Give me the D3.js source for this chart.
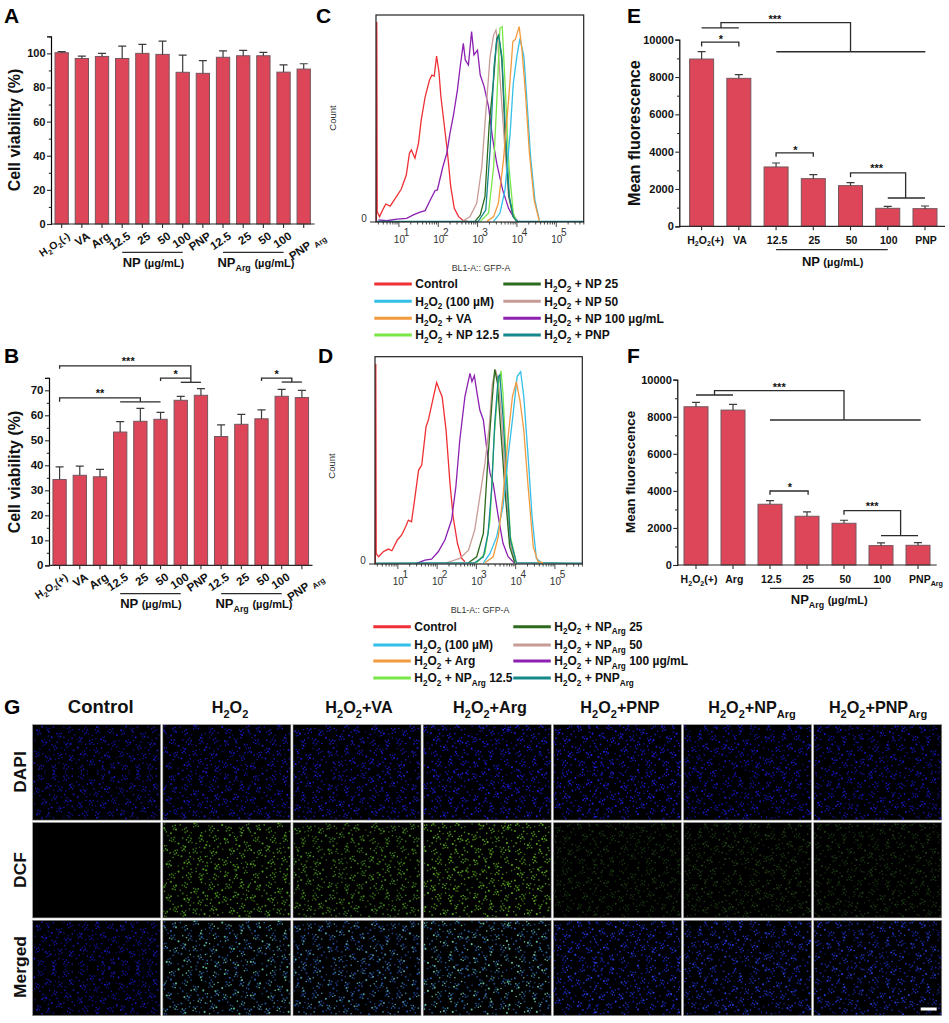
<!DOCTYPE html>
<html>
<head>
<meta charset="utf-8">
<script src="https://cdn.jsdelivr.net/npm/d3@7"></script>
<style>
    body { margin: 0; background: #fff; }
    svg { display: block; }
    text { font-family: "Liberation Sans", Arial, sans-serif; }
</style>
</head>
<body>
<div id="content"></div>
<script>
// Panel A
var labelsA = ["H~2~O~2~(-)", "VA", "Arg", "12.5", "25", "50", "100", "PNP", "12.5 ", "25 ", "50 ", "100 ", "PNP ~Arg~"];
var valuesA = [100.4, 97, 98.2, 97, 100, 99.4, 88.9, 88.3, 97.7, 98.6, 98.6, 89, 90.8];
var errorsA = [101, 98.4, 100, 104.3, 105.3, 107.2, 99, 95.7, 101.4, 101.8, 100.6, 93.2, 93.9];

// Panel B
var labelsB = ["H~2~O~2~(+)", "VA", "Arg", "12.5", "25", "50", "100", "PNP", "12.5 ", "25 ", "50 ", "100 ", "PNP ~Arg~"];
var valuesB = [34.3, 36, 35.4, 53.3, 57.6, 58.4, 66, 68, 51.5, 56.4, 58.6, 67.6, 67.1];
var errorsB = [39.4, 39.7, 38.4, 57.5, 62.8, 61.2, 67.6, 70.7, 56.2, 60.4, 62.2, 70.4, 70];

// Panel E
var labelsE = ["H~2~O~2~(+)", "VA", "12.5", "25", "50", "100", "PNP"];
var valuesE = [8964, 7930, 3180, 2554, 2179, 964, 946];
var errorsE = [9357, 8125, 3393, 2768, 2339, 1071, 1089];

// Panel F
var labelsF = ["H~2~O~2~(+)", "Arg", "12.5", "25", "50", "100", "PNP~Arg~"];
var valuesF = [8540, 8360, 3279, 2630, 2252, 1045, 1063];
var errorsF = [8775, 8667, 3477, 2865, 2414, 1189, 1207];

// Flow cytometry curves, [log10 of GFP-A, % of max count]
var cControl = [[0.44,0],[0.45,96.6],[0.46,5],[0.52,2.6],[0.62,6.6],[0.68,8.7],[0.79,7.7],[0.92,11.4],[1.07,15.8],[1.2,22.7],[1.28,33.2],[1.33,34.8],[1.42,30.8],[1.51,38],[1.58,49.3],[1.68,60.5],[1.79,68.6],[1.85,71],[1.91,70.5],[1.97,80.2],[2.03,72.6],[2.08,60.5],[2.16,47.7],[2.24,34.8],[2.33,17.1],[2.42,6.6],[2.53,2.6],[2.65,0.6],[2.78,0.2]];
var cH2O2 = [[3.42,0.3],[3.58,4.2],[3.71,15.5],[3.84,42.8],[3.92,66.9],[4.01,79.9],[4.09,88.7],[4.19,79.9],[4.26,60.5],[4.36,31.6],[4.47,10.6],[4.58,1]];
var cVA = [[3.25,0.3],[3.42,2.6],[3.54,9],[3.67,29.9],[3.8,58.9],[3.91,87.3],[3.97,88.1],[4.07,94.4],[4.14,83.1],[4.23,62.2],[4.33,33.2],[4.45,10.6],[4.58,0.6]];
var cNP125 = [[3.08,0.3],[3.29,4.2],[3.42,26.7],[3.5,58],[3.58,93.6],[3.64,94.4],[3.71,66.9],[3.81,26.7],[3.92,4.2],[4.01,0.3]];
var cNP25 = [[2.95,0.3],[3.08,3.4],[3.2,12.2],[3.31,47.7],[3.42,68.6],[3.5,88.7],[3.55,90.3],[3.63,78.3],[3.71,42.8],[3.81,12.2],[3.92,2.6],[4.01,0.3]];
var cNP50 = [[2.65,0.6],[2.82,2.6],[2.99,9],[3.12,26.7],[3.22,52.5],[3.33,79.9],[3.42,90.3],[3.48,92.8],[3.53,86.3],[3.58,70.2],[3.69,39.6],[3.8,12.2],[3.92,2.6],[4.01,0.3]];
var cNP100 = [[0.49,1],[0.7,0.6],[0.96,1.4],[1.21,1.8],[1.38,3.4],[1.55,4.8],[1.68,5.5],[1.81,10.6],[1.93,15.1],[1.99,15.5],[2.13,26.7],[2.23,33.2],[2.31,42.8],[2.4,51.7],[2.5,63.8],[2.57,75],[2.65,86.3],[2.7,78.3],[2.78,75.8],[2.86,92],[2.92,80.7],[3.01,83],[3.08,71],[3.18,65.4],[3.29,55.7],[3.4,39.6],[3.5,28.3],[3.65,15.5],[3.8,6.6],[3.92,2.6],[4.03,0.6]];
var cPNP = [[0.45,0.3],[3.03,0.3],[3.22,5.8],[3.33,34.8],[3.43,75],[3.5,87.9],[3.55,89.9],[3.63,79.9],[3.72,44.4],[3.82,12.2],[3.92,2.6],[4.01,0.3],[5.7,0.3]];

var dControl = [[0.44,0],[0.45,96.5],[0.46,5],[0.52,3.5],[0.64,5.9],[0.77,7.2],[0.86,6.4],[1,11.6],[1.11,14],[1.21,18],[1.28,21.2],[1.36,20.4],[1.45,32.5],[1.54,45.3],[1.62,47.7],[1.73,66.2],[1.79,69.5],[1.9,79.1],[2,87.5],[2.07,83.9],[2.14,80.7],[2.24,64.6],[2.34,38.9],[2.42,22.8],[2.53,10],[2.64,2.7],[2.72,1.1]];
var dH2O2 = [[3.19,0.6],[3.36,5.1],[3.53,13.2],[3.69,27.7],[3.82,51.8],[3.95,72.7],[4.05,90.4],[4.14,92.8],[4.22,80.7],[4.33,51.8],[4.43,22.8],[4.54,2.7],[4.67,0.6]];
var dArg = [[3.23,0.6],[3.44,3.5],[3.57,13.2],[3.69,32.5],[3.82,61.4],[3.93,80.7],[4.03,87.9],[4.12,79.1],[4.22,64.6],[4.33,37.3],[4.46,8.4],[4.58,1.1],[4.71,0.6]];
var dNP125 = [[3.02,0.6],[3.23,5.1],[3.36,21.2],[3.46,59.8],[3.57,87.1],[3.64,93.2],[3.69,82.3],[3.78,46.9],[3.88,13.2],[4.03,0.6]];
var dNP25 = [[2.81,0.6],[3.02,3.5],[3.19,14.8],[3.31,51.8],[3.42,80.7],[3.48,93.9],[3.55,87.1],[3.65,59.8],[3.76,30.9],[3.86,8.4],[3.99,0.6]];
var dNP50 = [[2.25,0.6],[2.59,2.7],[2.81,6.7],[2.97,16.4],[3.1,32.5],[3.23,48.6],[3.34,66.2],[3.42,87.1],[3.5,93.6],[3.57,88.8],[3.65,71.1],[3.76,38.9],[3.86,11.6],[3.99,0.6]];
var dNP100 = [[1.49,0.3],[1.7,1.9],[1.87,2.3],[2.04,5.9],[2.21,11.6],[2.38,21.2],[2.49,37.3],[2.59,59.8],[2.72,80.7],[2.85,92],[2.9,88],[2.96,90.8],[3.03,82.3],[3.1,74.3],[3.19,69.5],[3.27,56.6],[3.36,43.7],[3.44,38.9],[3.57,22.8],[3.69,10],[3.82,3.5],[3.99,0.3]];
var dPNP = [[0.45,0.4],[2.97,0.6],[3.19,3.5],[3.31,14.8],[3.4,35.7],[3.48,67.8],[3.57,90.4],[3.61,91.2],[3.69,71.1],[3.78,42.1],[3.88,11.6],[4.03,0.6],[5.7,0.4]];

var legendC = ["Control", "H~2~O~2~ (100 µM)", "H~2~O~2~ + VA", "H~2~O~2~ + NP 12.5", "H~2~O~2~ + NP 25", "H~2~O~2~ + NP 50", "H~2~O~2~ + NP 100 µg/mL", "H~2~O~2~ + PNP"];
var legendD = ["Control", "H~2~O~2~ (100 µM)", "H~2~O~2~ + Arg", "H~2~O~2~ + NP~Arg~ 12.5", "H~2~O~2~ + NP~Arg~ 25", "H~2~O~2~ + NP~Arg~ 50", "H~2~O~2~ + NP~Arg~ 100 µg/mL", "H~2~O~2~ + PNP~Arg~"];

// Panel G
var columnsG = ["Control", "H~2~O~2~", "H~2~O~2~+VA", "H~2~O~2~+Arg", "H~2~O~2~+PNP", "H~2~O~2~+NP~Arg~", "H~2~O~2~+PNP~Arg~"];
var rowsG = ["DAPI", "DCF", "Merged"];
var cellPatch = [
    [.08,.1],[.11,.14],[.14,.11],[.1,.19],[.16,.17],[.31,.05],[.34,.09],[.38,.06],[.36,.13],
    [.55,.17],[.58,.22],[.61,.18],[.64,.23],[.6,.27],[.66,.16],[.81,.07],[.86,.04],[.88,.11],[.84,.14],[.93,.09],
    [.2,.33],[.24,.36],[.27,.41],[.22,.43],[.3,.36],[.26,.3],[.44,.41],[.48,.46],[.52,.43],[.5,.51],[.55,.48],
    [.73,.36],[.77,.4],[.81,.37],[.84,.43],[.79,.46],[.88,.39],[.82,.31],[.03,.55],[.07,.6],[.11,.57],[.05,.66],[.1,.65],[.14,.62],
    [.29,.66],[.33,.69],[.37,.65],[.35,.75],[.4,.71],[.31,.76],[.58,.6],[.62,.64],[.66,.61],[.6,.7],[.67,.68],
    [.85,.64],[.89,.68],[.93,.65],[.96,.71],[.91,.75],[.86,.73],[.1,.84],[.14,.88],[.18,.85],[.12,.93],[.19,.92],[.23,.87],
    [.43,.86],[.47,.89],[.51,.85],[.45,.95],[.53,.92],[.49,.97],[.7,.82],[.74,.86],[.78,.83],[.72,.91],[.79,.93],[.83,.88],[.76,.97],
    [.2,.02],[.47,.03],[.72,.03],[.98,.2],[.43,.25],[.03,.32],[.35,.22],[.72,.25],[.92,.27],[.15,.5],[.38,.52],[.66,.47],[.95,.53],
    [.22,.6],[.48,.62],[.76,.6],[.02,.8],[.27,.97],[.6,.8],[.92,.92],[.56,.35],[.38,.32],[.74,.52],[.52,.72]
];

var width = 949;
var height = 1023;
var barFill = "#dd4659";
var barStroke = "#75565c";
var inkColor = "#2b2b2b";
var svg = d3.select("#content").append("svg").attr("width", width).attr("height", height);
svg.append("defs").append("filter").attr("id", "soft")
    .attr("x", 0).attr("y", 0).attr("width", 1).attr("height", 1)
    .append("feGaussianBlur").attr("stdDeviation", 0.35);

// ~x~ is a subscript, {x} is a smaller run
function rich(sel, str, fs) {
    var parts = str.match(/~[^~]*~|\{[^}]*\}|[^~{]+/g);
    var back = 0;
    parts.forEach(function(p) {
        var t = sel.append("tspan");
        if (p[0] === "~") {
            t.text(p.slice(1, -1)).attr("font-size", fs * 0.68).attr("dy", fs * 0.28);
            back = -fs * 0.28;
        } else {
            t.attr("dy", back);
            back = 0;
            if (p[0] === "{") t.text(p.slice(1, -1)).attr("font-size", fs * 0.85);
            else t.text(p);
        }
    });
}

function addText(g, x, y, str, fs, anchor, rotate) {
    var t = g.append("text")
        .attr("font-size", fs)
        .attr("font-weight", "bold")
        .attr("fill", "#111")
        .attr("text-anchor", anchor || "middle");
    if (rotate) t.attr("transform", "translate(" + x + "," + y + ") rotate(" + rotate + ")");
    else t.attr("x", x).attr("y", y);
    rich(t, str, fs);
    return t;
}

function addLine(g, pts, w) {
    g.append("path")
        .attr("d", d3.line()(pts))
        .attr("fill", "none")
        .attr("stroke", inkColor)
        .attr("stroke-width", w || 1.3);
}

function barPanel(o) {
    var g = svg.append("g");
    var bw = o.barWidth;
    var step = (o.xRange[1] - o.xRange[0]) / o.labels.length;
    var pad = 1 - bw / step;
    var x = d3.scaleBand().domain(o.labels).range(o.xRange).paddingInner(pad).paddingOuter(pad / 2);
    var y = d3.scaleLinear().domain(o.yDomain).range(o.yRange);
    // position by band number, fractions allowed, for the brackets
    var bx = function(i) { return o.xRange[0] + (i + 0.5) * step; };

    g.selectAll("rect.bar")
        .data(o.values)
        .enter().append("rect")
        .attr("class", "bar")
        .attr("x", function(d, i) { return x(o.labels[i]); })
        .attr("y", function(d) { return y(d); })
        .attr("width", x.bandwidth())
        .attr("height", function(d) { return y(0) - y(d); })
        .attr("fill", barFill)
        .attr("stroke", barStroke)
        .attr("stroke-width", 1);

    g.selectAll("path.err")
        .data(o.errors)
        .enter().append("path")
        .attr("class", "err")
        .attr("d", function(d, i) {
            var cx = bx(i);
            return "M" + cx + "," + y(o.values[i]) + "V" + y(d) + "M" + (cx - 4) + "," + y(d) + "H" + (cx + 4);
        })
        .attr("fill", "none")
        .attr("stroke", "#3c3c3c")
        .attr("stroke-width", 1.2);

    // axes
    var yAxis = d3.axisLeft(y).tickValues(o.yTicks).tickSize(o.tickLen).tickFormat("");
    var yMinor = d3.axisLeft(y).tickValues(o.yMinor).tickSize(o.tickLen * 0.55).tickFormat("");
    var xAxis = d3.axisBottom(x).tickSize(o.tickLen).tickFormat("");
    var gy = g.append("g").attr("transform", "translate(" + o.axisX + ",0)").call(yAxis);
    g.append("g").attr("transform", "translate(" + o.axisX + ",0)").call(yMinor).select(".domain").remove();
    gy.select(".domain").attr("stroke-width", 1.2);
    var gx = g.append("g").attr("transform", "translate(0," + y(0) + ")").call(xAxis);
    gx.select(".domain").remove();
    g.selectAll(".tick line").attr("stroke", inkColor).attr("stroke-width", 1.1);
    addLine(g, [[o.axisX, y(0)], [o.axisEnd, y(0)]], 1.2);

    o.yTicks.forEach(function(v) {
        addText(g, o.axisX - o.tickLen - 1.5, y(v) + o.yFont * 0.36, String(v), o.yFont, "end");
    });
    o.labels.forEach(function(l, i) {
        var cx = bx(i) + o.labelDx(i);
        if (o.labelAngle) addText(g, cx, o.labelY, l.trim(), i === 0 ? o.xFont : o.xFont + 1, "end", o.labelAngle);
        else addText(g, cx, o.labelY, l, o.xFont);
    });
    addText(g, o.titleX, o.titleY, o.title, o.titleFont, "middle", -90);

    // groups under the axis
    o.groups.forEach(function(gr) {
        addLine(g, [[bx(gr.from), gr.lineY], [bx(gr.to), gr.lineY]], 1.2);
        addText(g, gr.x, gr.textY, gr.text, gr.font);
    });

    // significance brackets, given as [band, value] points
    o.brackets.forEach(function(b) {
        addLine(g, b.map(function(p) { return [bx(p[0]), y(p[1])]; }), 1.3);
    });
    o.stars.forEach(function(s) {
        addText(g, bx(s[0]), y(s[1]), s[2], 11);
    });
}

barPanel({
    labels: labelsA, values: valuesA, errors: errorsA,
    xRange: [51.6, 313.8], barWidth: 13.3,
    yDomain: [0, 110], yRange: [224, 36.3], yTicks: [0, 20, 40, 60, 80, 100], yMinor: [10, 30, 50, 70, 90, 110],
    axisX: 51, axisEnd: 314.5, tickLen: 4, yFont: 11, xFont: 10.5,
    labelAngle: -34, labelY: 238, labelDx: function(i) { return i === 12 ? 22 : 9; },
    title: "Cell viability (%)", titleX: 20, titleY: 130, titleFont: 16,
    groups: [
        {from: 3, to: 6, lineY: 252.3, x: 153.5, textY: 267, text: "NP {(µg/mL)}", font: 13},
        {from: 8, to: 11, lineY: 252.3, x: 256, textY: 267, text: "NP~Arg~ {(µg/mL)}", font: 13}
    ],
    brackets: [], stars: []
});

barPanel({
    labels: labelsB, values: valuesB, errors: errorsB,
    xRange: [49.5, 312], barWidth: 13.3,
    yDomain: [0, 75], yRange: [565.3, 377.8], yTicks: [0, 10, 20, 30, 40, 50, 60, 70], yMinor: [5, 15, 25, 35, 45, 55, 65, 75],
    axisX: 49, axisEnd: 312.5, tickLen: 4, yFont: 11.5, xFont: 10.5,
    labelAngle: -34, labelY: 579, labelDx: function(i) { return i === 12 ? 22 : 9; },
    title: "Cell viability (%)", titleX: 20, titleY: 472, titleFont: 16,
    groups: [
        {from: 3, to: 6, lineY: 593.7, x: 151, textY: 608, text: "NP {(µg/mL)}", font: 13},
        {from: 8, to: 11, lineY: 593.7, x: 254, textY: 608, text: "NP~Arg~ {(µg/mL)}", font: 13}
    ],
    brackets: [
        [[0, 78.6], [0, 79.8], [6.5, 79.8], [6.5, 73.2]], [[6, 73.2], [7, 73.2]],
        [[5, 73.7], [5, 74.9], [6.5, 74.9]],
        [[0, 65.4], [0, 67], [4, 67], [4, 65.4]], [[3, 65.4], [5, 65.4]],
        [[10, 73.7], [10, 74.9], [11.5, 74.9], [11.5, 73.3]], [[11, 73.3], [12, 73.3]]
    ],
    stars: [[3.4, 80, "***"], [5.75, 74.8, "*"], [2, 67.3, "**"], [10.75, 74.8, "*"]]
});

barPanel({
    labels: labelsE, values: valuesE, errors: errorsE,
    xRange: [683, 943.6], barWidth: 24,
    yDomain: [0, 10000], yRange: [226.3, 39.7], yTicks: [0, 2000, 4000, 6000, 8000, 10000], yMinor: [1000, 3000, 5000, 7000, 9000],
    axisX: 679.3, axisEnd: 945, tickLen: 4, yFont: 11, xFont: 10.5,
    labelY: 243.5, labelDx: function(i) { return i === 0 ? 4 : 1; },
    title: "Mean fluorescence", titleX: 639.5, titleY: 133, titleFont: 16.2,
    groups: [{from: 2, to: 5, lineY: 249.7, x: 832.7, textY: 266, text: "NP {(µg/mL)}", font: 13}],
    brackets: [
        [[0, 9630], [0, 9866], [1, 9866], [1, 9630]],
        [[0, 10633], [1, 10633]], [[0.52, 10633], [0.52, 10917], [4, 10917], [4, 9362]],
        [[2, 3732], [2, 3930], [3, 3930], [3, 3732]],
        [[4, 2627], [4, 2858], [5.48, 2858], [5.48, 1517]], [[5, 1517], [6, 1517]]
    ],
    stars: [[0.52, 9828, "*"], [1.97, 10900, "***"], [2.52, 3898, "*"], [4.7, 2912, "***"]]
});
addLine(svg, [[776.3, 51.7], [925.3, 51.7]], 1.6);

barPanel({
    labels: labelsF, values: valuesF, errors: errorsF,
    xRange: [677.5, 936.5], barWidth: 24,
    yDomain: [0, 10000], yRange: [565, 379.7], yTicks: [0, 2000, 4000, 6000, 8000, 10000], yMinor: [1000, 3000, 5000, 7000, 9000],
    axisX: 677.3, axisEnd: 936.7, tickLen: 4, yFont: 11, xFont: 10.5,
    labelY: 583, labelDx: function(i) { return i === 0 ? 3 : (i === 6 ? 8 : 1.3); },
    title: "Mean fluorescence", titleX: 634.5, titleY: 472, titleFont: 13.6,
    groups: [{from: 2, to: 5, lineY: 588.3, x: 829.3, textY: 604, text: "NP~Arg~ {(µg/mL)}", font: 13}],
    brackets: [
        [[0, 9174], [1, 9174]], [[0.5, 9174], [0.5, 9406], [4, 9406], [4, 7825]],
        [[2, 3794], [2, 3994], [3.03, 3994], [3.03, 3794]],
        [[4, 2715], [4, 2930], [5.53, 2930], [5.53, 1581]], [[5, 1581], [6, 1581]]
    ],
    stars: [[2.25, 9390, "***"], [2.54, 3977, "*"], [4.76, 2968, "***"]]
});
addLine(svg, [[770, 420], [920.7, 420]], 1.6);

// flow panels
var flowColors = ["#ee2f33", "#33bfe8", "#f29a3e", "#79e648", "#2c6a1e", "#c79c97", "#8c20b0", "#14888a"];
var drawOrder = [0, 6, 5, 4, 3, 7, 1, 2];

function flowPanel(o) {
    var g = svg.append("g");
    var x = d3.scaleLinear().domain([0.43, 5.71]).range(o.xRange);
    var y = d3.scaleLinear().domain([0, 100]).range(o.yRange);
    var line = d3.line().x(function(d) { return x(d[0]); }).y(function(d) { return y(d[1]); });

    var minors = [];
    d3.range(0, 6).forEach(function(dec) {
        d3.range(2, 10).forEach(function(k) {
            var v = dec + Math.log10(k);
            if (v > 0.43 && v < 5.71) minors.push(v);
        });
    });
    g.append("g").attr("transform", "translate(0," + o.yRange[0] + ")")
        .call(d3.axisBottom(x).tickValues(minors).tickSize(2.5).tickFormat(""))
        .select(".domain").remove();
    g.append("g").attr("transform", "translate(0," + o.yRange[0] + ")")
        .call(d3.axisBottom(x).tickValues([1, 2, 3, 4, 5]).tickSize(5).tickFormat(""))
        .select(".domain").remove();
    g.selectAll(".tick line").attr("stroke", "#222").attr("stroke-width", 0.8);

    g.selectAll("path.curve")
        .data(drawOrder)
        .enter().append("path")
        .attr("class", "curve")
        .attr("d", function(k) { return line(o.curves[k]); })
        .attr("fill", "none")
        .attr("stroke", function(k) { return flowColors[k]; })
        .attr("stroke-width", 1.3);

    g.append("rect")
        .attr("x", o.xRange[0]).attr("y", o.yRange[1])
        .attr("width", o.xRange[1] - o.xRange[0]).attr("height", o.yRange[0] - o.yRange[1])
        .attr("fill", "none").attr("stroke", "#222").attr("stroke-width", 1.2);
    addLine(g, [[o.xRange[0] - 6, o.yRange[0]], [o.xRange[0], o.yRange[0]]], 1);

    [1, 2, 3, 4, 5].forEach(function(dec) {
        g.append("text").attr("x", x(dec) + 1).attr("y", o.yRange[0] + 21)
            .attr("text-anchor", "middle").attr("font-size", 10).attr("fill", "#333").text("10");
        g.append("text").attr("x", x(dec) + 8).attr("y", o.yRange[0] + 14)
            .attr("text-anchor", "middle").attr("font-size", 10).attr("fill", "#333").text(dec);
    });
    g.append("text").attr("x", o.xRange[0] - 12).attr("y", o.yRange[0] - 0)
        .attr("text-anchor", "middle").attr("font-size", 10).attr("fill", "#333").text("0");
    g.append("text").attr("transform", "translate(" + (o.xRange[0] - 40) + "," + o.countY + ") rotate(-90)")
        .attr("text-anchor", "middle").attr("font-size", 9.5).attr("fill", "#333").text("Count");
    g.append("text").attr("x", o.xRange[0] + 105).attr("y", o.yRange[0] + 49)
        .attr("text-anchor", "middle").attr("font-size", 8.8).attr("fill", "#333").text("BL1-A:: GFP-A");

    // legend, two columns of four
    o.legend.forEach(function(l, i) {
        var col = i < 4 ? 0 : 1;
        var rowY = o.legendY[i % 4];
        g.append("line")
            .attr("x1", o.legendX[col]).attr("x2", o.legendX[col] + 37.5)
            .attr("y1", rowY).attr("y2", rowY)
            .attr("stroke", flowColors[i]).attr("stroke-width", 3);
        addText(g, o.legendX[col] + 41, rowY + 4.2, l, 12, "start");
    });
}

flowPanel({
    curves: [cControl, cH2O2, cVA, cNP125, cNP25, cNP50, cNP100, cPNP],
    xRange: [376, 583.7], yRange: [222, 15], countY: 118,
    legend: legendC, legendX: [374.3, 503.3], legendY: [284, 301.3, 318.3, 335]
});
flowPanel({
    curves: [dControl, dH2O2, dArg, dNP125, dNP25, dNP50, dNP100, dPNP],
    xRange: [375, 582.3], yRange: [564, 356.7], countY: 466,
    legend: legendD, legendX: [373.3, 513.3], legendY: [626.7, 645, 661, 678]
});

// panel G, micrographs
var xG = d3.scaleBand().domain(d3.range(columnsG.length)).range([31.6, 942.8]).paddingInner(0.0165).paddingOuter(0.008);
var yG = d3.scaleBand().domain(rowsG).range([724.2, 1016.2]).paddingInner(0.024).paddingOuter(0.005);
var dapiColor = ["#1818b0", "#1a1ac0", "#1c1cc8", "#1d1dd8", "#1e1edc", "#1919c4", "#1919c0"];
var dcfColor = ["#000000", "#4c9a1e", "#42881e", "#58a420", "#1c3a16", "#223f18", "#203c18"];
var mergedColor = ["#1818b0", "#2a68b8", "#2658c0", "#2a6cbe", "#1a28d0", "#1b2cc0", "#1b2cbc"];
var mergedAccent = ["#1818b0", "#58ae98", "#4892a8", "#60b498", "#263cd8", "#243cd0", "#243ccc"];

columnsG.forEach(function(c, ci) {
    addText(svg, [100.7, 230, 359, 490, 620, 752, 878][ci], 713, c, ci === 0 ? 18.5 : 16.2);
    rowsG.forEach(function(r, ri) {
        var x0 = xG(ci), y0 = yG(r), w = xG.bandwidth(), h = yG.bandwidth();
        var g = svg.append("g").attr("transform", "translate(" + x0 + "," + y0 + ")");
        g.append("rect").attr("width", w).attr("height", h).attr("fill", "#000")
            .attr("stroke", "#9a9a9a").attr("stroke-width", 0.6);
        if (r === "DCF" && ci === 0) return;
        var sx = d3.scaleLinear().domain([0, 1]).range([1, w - 1]);
        var sy = d3.scaleLinear().domain([0, 1]).range([1, h - 1]);
        var spots = [];
        // repeat the patch 3 x 2, flipped and shifted per column
        d3.range(3).forEach(function(tx) {
            d3.range(2).forEach(function(ty) {
                cellPatch.forEach(function(p, i) {
                    var px = ((tx + ci) % 2 === 0) ? p[0] : 1 - p[0];
                    var py = ((tx + ty + ci) % 2 === 0) ? p[1] : 1 - p[1];
                    spots.push({x: (((px + ci * 0.37) % 1) + tx) / 3, y: (((py + ci * 0.23) % 1) + ty) / 2, i: i});
                });
            });
        });
        var dots = g.append("g").attr("filter", "url(#soft)");
        dots.selectAll("circle").data(spots).enter().append("circle")
            .attr("cx", function(d) { return sx(d.x); })
            .attr("cy", function(d) { return sy(d.y); })
            .attr("r", function(d) { return d.i % 4 === 0 ? 1.05 : 0.8; })
            .attr("fill", function(d) {
                if (r === "DAPI") return dapiColor[ci];
                if (r === "DCF") return dcfColor[ci];
                return d.i % 3 === 0 ? mergedAccent[ci] : mergedColor[ci];
            })
            .attr("opacity", function(d) { return [1, 0.65, 0.85][d.i % 3]; });
    });
});
addText(svg, 26, 772, "DAPI", 17.4, "middle", -90);
addText(svg, 26, 870, "DCF", 17.4, "middle", -90);
addText(svg, 26, 967, "Merged", 17.4, "middle", -90);
svg.append("rect").attr("x", 920.7).attr("y", 1007.5).attr("width", 16).attr("height", 3).attr("fill", "#fff");

// panel letters
[["A", 4, 23], ["B", 4, 363], ["C", 316, 23], ["D", 318, 363], ["E", 627, 23], ["F", 627, 363], ["G", 4, 714]].forEach(function(p) {
    addText(svg, p[1], p[2], p[0], 21, "start").attr("fill", "#000");
});
</script>
</body>
</html>
